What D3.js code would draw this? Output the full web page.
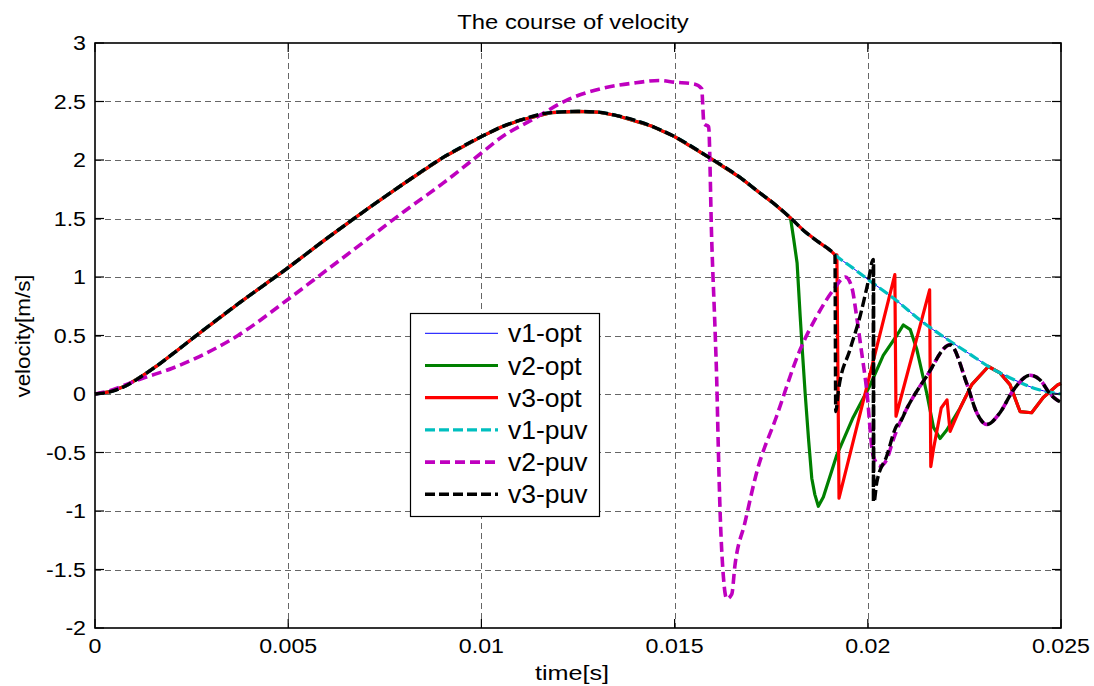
<!DOCTYPE html>
<html>
<head>
<meta charset="utf-8">
<script src="https://cdnjs.cloudflare.com/ajax/libs/d3/7.8.5/d3.min.js"></script>
<style>
body { margin: 0; background: #fff; }
text { font-family: "Liberation Sans", Arial, Helvetica, sans-serif; fill: #000; }
</style>
</head>
<body>
<div id="chart"></div>
<script>
// axis ticks
var xTicks = [0, 0.005, 0.01, 0.015, 0.02, 0.025];
var xTickLabels = ["0", "0.005", "0.01", "0.015", "0.02", "0.025"];
var yTicks = [-2, -1.5, -1, -0.5, 0, 0.5, 1, 1.5, 2, 2.5, 3];
var yTickLabels = ["-2", "-1.5", "-1", "-0.5", "0", "0.5", "1", "1.5", "2", "2.5", "3"];

// common rise, shared by v1, v2, v3 (opt and puv) up to 0.018 s
var riseT = [0, 0.0004, 0.0008, 0.0012, 0.0016, 0.002, 0.0027, 0.0037, 0.005, 0.006, 0.007, 0.008, 0.009,
             0.01, 0.0105, 0.011, 0.0118, 0.0125, 0.013, 0.0135, 0.0144, 0.015, 0.0159, 0.0167, 0.0172,
             0.0176, 0.018];
var riseV = [0, 0.02, 0.07, 0.15, 0.24, 0.34, 0.52, 0.77, 1.08, 1.33, 1.57, 1.8, 2.02,
             2.2, 2.28, 2.34, 2.405, 2.415, 2.41, 2.38, 2.29, 2.2, 2.02, 1.85, 1.72,
             1.62, 1.505];

// v1 and v3 stay together a little longer
var sharedT = [0.01833, 0.01872, 0.01902, 0.01915];
var sharedV = [1.4, 1.3, 1.23, 1.19];

// v1 tail (opt and puv are the same)
var v1TailT = [0.0196, 0.02, 0.0207, 0.0214, 0.022, 0.0226, 0.0232, 0.0238, 0.0243, 0.0248, 0.025];
var v1TailV = [1.08, 0.98, 0.81, 0.62, 0.48, 0.35, 0.22, 0.12, 0.05, 0.01, 0.0];

// v3-opt tail
var v3optTailT = [0.0192, 0.019255, 0.0207, 0.02073, 0.0216, 0.02163, 0.0217, 0.0219, 0.02205, 0.02213,
                  0.02239, 0.02269, 0.02312, 0.02342, 0.02368, 0.02394, 0.02424, 0.02454, 0.02492, 0.025];
var v3optTailV = [1.19, -0.89, 1.02, -0.19, 0.89, -0.62, -0.47, -0.12, -0.05, -0.32,
                  -0.12, 0.08, 0.235, 0.18, 0.08, -0.15, -0.16, -0.03, 0.08, 0.09];

// v2-opt tail (joins v3-opt near 0.0221 s)
var v2optTailT = [0.01808, 0.01817, 0.01825, 0.0183, 0.01838, 0.01847, 0.01855, 0.01863, 0.01872, 0.01885,
                  0.0192, 0.01962, 0.02006, 0.0204, 0.02075, 0.02092, 0.0211, 0.02127, 0.02153, 0.0217,
                  0.02187, 0.02204];
var v2optTailV = [1.33, 1.12, 0.665, 0.4, 0.0, -0.4, -0.72, -0.86, -0.96, -0.88,
                  -0.52, -0.2, 0.075, 0.33, 0.5, 0.59, 0.55, 0.38, 0.0, -0.285,
                  -0.38, -0.31];

// v3-puv tail (the drop at 0.0202 s chatters, so it reads as a solid stroke)
var v3puvTailT = [0.01917, 0.01924, 0.01954, 0.0198, 0.02001, 0.02014, 0.020145, 0.02015, 0.020155, 0.02016,
                  0.02023, 0.02049, 0.02075, 0.02083, 0.021, 0.02152, 0.02213, 0.02256, 0.02282, 0.02308,
                  0.02342, 0.02376, 0.0242, 0.02446, 0.02472, 0.02489, 0.025];
var v3puvTailV = [-0.15, 0.03, 0.38, 0.665, 0.96, 1.15, -0.92, 1.12, -0.9, -0.92,
                  -0.76, -0.53, -0.27, -0.245, -0.13, 0.15, 0.42, 0.09, -0.16, -0.26,
                  -0.16, 0.03, 0.16, 0.12, 0.0, -0.05, -0.07];

// v2-puv (joins v3-puv near 0.0208 s)
var v2puvT = [0, 0.0004, 0.0008, 0.0012, 0.002, 0.0027, 0.0037, 0.005, 0.006, 0.007, 0.008, 0.009, 0.01,
              0.0105, 0.0114, 0.0122, 0.0131, 0.014, 0.0146, 0.015, 0.0155, 0.0157, 0.01576, 0.01588,
              0.01596, 0.01605, 0.01609, 0.01613, 0.01617, 0.01626, 0.01635, 0.01648, 0.01656, 0.01682,
              0.01712, 0.01764, 0.01825, 0.01868, 0.01911, 0.01942, 0.01958, 0.01971, 0.01983, 0.01997,
              0.02014, 0.02032, 0.02049, 0.02066];
var v2puvV = [0, 0.03, 0.08, 0.13, 0.22, 0.32, 0.5, 0.81, 1.06, 1.31, 1.56, 1.8, 2.06,
              2.19, 2.36, 2.51, 2.61, 2.66, 2.68, 2.665, 2.65, 2.61, 2.31, 2.285,
              1.32, 0.52, 0.12, -0.445, -0.93, -1.55, -1.75, -1.71, -1.47, -1.1,
              -0.675, -0.19, 0.38, 0.665, 0.89, 1.0, 0.92, 0.665, 0.38, 0.04,
              -0.53, -0.615, -0.56, -0.39];

var seriesNames = ["v1-opt", "v2-opt", "v3-opt", "v1-puv", "v2-puv", "v3-puv"];
var seriesColors = ["#0000ff", "#008000", "#ff0000", "#00bfbf", "#bf00bf", "#000000"];

function pts(ts, vs) { return ts.map(function(t, i) { return [t, vs[i]]; }); }

var rise = pts(riseT, riseV),
    shared = pts(sharedT, sharedV),
    v1Tail = pts(v1TailT, v1TailV),
    v3optTail = pts(v3optTailT, v3optTailV),
    v3puvTail = pts(v3puvTailT, v3puvTailV);

var v1 = rise.concat(shared, v1Tail);
var v2opt = rise.concat(pts(v2optTailT, v2optTailV), v3optTail.filter(function(d) { return d[0] > 0.02213; }));
var v3opt = rise.concat(shared, v3optTail);
var v3puv = rise.concat(shared, v3puvTail);
var v2puv = pts(v2puvT, v2puvV).concat(v3puvTail.filter(function(d) { return d[0] > 0.02075; }));

var seriesData = [v1, v2opt, v3opt, v1, v2puv, v3puv];
var seriesWidth = [1, 3.2, 3.2, 3.2, 3.6, 3.4];
var seriesDash = [null, null, null, "10,4", "10,5", "10,4"];
// the sawtooth "opt" curves are straight between samples
var seriesSmooth = [true, false, false, true, true, true];

var W = 1094, H = 686;
var margin = {top: 43, right: 33, bottom: 58, left: 95};
var width = W - margin.left - margin.right,
    height = H - margin.top - margin.bottom;

var svg = d3.select("#chart").append("svg")
    .attr("width", W)
    .attr("height", H);

var x = d3.scaleLinear().domain([0, 0.025]).range([margin.left, margin.left + width]);
var y = d3.scaleLinear().domain([-2, 3]).range([margin.top + height, margin.top]);

// Grid
var grid = svg.append("g")
    .attr("stroke", "#666")
    .attr("stroke-width", 1)
    .attr("stroke-dasharray", "6,4");
grid.selectAll("line.gx").data(xTicks.slice(1, -1)).enter().append("line")
    .attr("x1", function(d) { return Math.round(x(d)) + 0.5; })
    .attr("x2", function(d) { return Math.round(x(d)) + 0.5; })
    .attr("y1", y(3)).attr("y2", y(-2));
grid.selectAll("line.gy").data(yTicks.slice(1, -1)).enter().append("line")
    .attr("y1", function(d) { return Math.round(y(d)) + 0.5; })
    .attr("y2", function(d) { return Math.round(y(d)) + 0.5; })
    .attr("x1", x(0)).attr("x2", x(0.025));

// Curves, drawn in legend order so the last one is on top
var smoothLine = d3.line()
    .curve(d3.curveMonotoneX)
    .x(function(d) { return x(d[0]); })
    .y(function(d) { return y(d[1]); });
var straightLine = d3.line()
    .x(function(d) { return x(d[0]); })
    .y(function(d) { return y(d[1]); });

var plot = svg.append("g");
seriesData.forEach(function(data, i) {
    plot.append("path")
        .datum(data)
        .attr("d", seriesSmooth[i] ? smoothLine : straightLine)
        .attr("fill", "none")
        .attr("stroke", seriesColors[i])
        .attr("stroke-width", seriesWidth[i])
        .attr("stroke-linejoin", "round")
        .attr("stroke-dasharray", seriesDash[i]);
});

// Axes box and inner ticks
var ax = svg.append("g").attr("stroke", "#000").attr("stroke-width", 1.2);
ax.append("rect")
    .attr("x", x(0)).attr("y", y(3))
    .attr("width", width).attr("height", height)
    .attr("fill", "none")
    .attr("stroke-width", 1.6);
var tick = 9;
xTicks.forEach(function(d) {
    ax.append("line").attr("x1", x(d)).attr("x2", x(d)).attr("y1", y(-2)).attr("y2", y(-2) - tick);
    ax.append("line").attr("x1", x(d)).attr("x2", x(d)).attr("y1", y(3)).attr("y2", y(3) + tick);
});
yTicks.forEach(function(d) {
    ax.append("line").attr("y1", y(d)).attr("y2", y(d)).attr("x1", x(0)).attr("x2", x(0) + tick);
    ax.append("line").attr("y1", y(d)).attr("y2", y(d)).attr("x1", x(0.025)).attr("x2", x(0.025) - tick);
});

// Tick labels
var sx = 1.16;
xTicks.forEach(function(d, i) {
    svg.append("text")
        .attr("transform", "translate(" + x(d) + "," + 653 + ") scale(" + sx + ",1)")
        .attr("text-anchor", "middle")
        .style("font-size", "20px")
        .text(xTickLabels[i]);
});
yTicks.forEach(function(d, i) {
    svg.append("text")
        .attr("transform", "translate(" + 86 + "," + (y(d) + 7) + ") scale(" + sx + ",1)")
        .attr("text-anchor", "end")
        .style("font-size", "20px")
        .text(yTickLabels[i]);
});

// Title and axis labels
svg.append("text")
    .attr("transform", "translate(" + 573 + "," + 29 + ") scale(1.19,1)")
    .attr("text-anchor", "middle")
    .style("font-size", "20px")
    .text("The course of velocity");
svg.append("text")
    .attr("transform", "translate(" + 572 + "," + 680 + ") scale(1.2,1)")
    .attr("text-anchor", "middle")
    .style("font-size", "21px")
    .text("time[s]");
svg.append("text")
    .attr("transform", "translate(" + 30 + "," + 336 + ") rotate(-90) scale(1.12,1)")
    .attr("text-anchor", "middle")
    .style("font-size", "20px")
    .text("velocity[m/s]");

// Legend
var lg = svg.append("g");
lg.append("rect")
    .attr("x", 410.5).attr("y", 313.5)
    .attr("width", 189).attr("height", 203)
    .attr("fill", "#fff")
    .attr("stroke", "#000")
    .attr("stroke-width", 1.2);
seriesNames.forEach(function(name, i) {
    var cy = 333.3 + i * 32.2;
    lg.append("line")
        .attr("x1", 425).attr("x2", 498)
        .attr("y1", cy).attr("y2", cy)
        .attr("stroke", seriesColors[i])
        .attr("stroke-width", seriesWidth[i])
        .attr("stroke-dasharray", seriesDash[i]);
    lg.append("text")
        .attr("transform", "translate(" + 508 + "," + (cy + 9) + ") scale(1.06,1)")
        .style("font-size", "25px")
        .text(name);
});
</script>
</body>
</html>
